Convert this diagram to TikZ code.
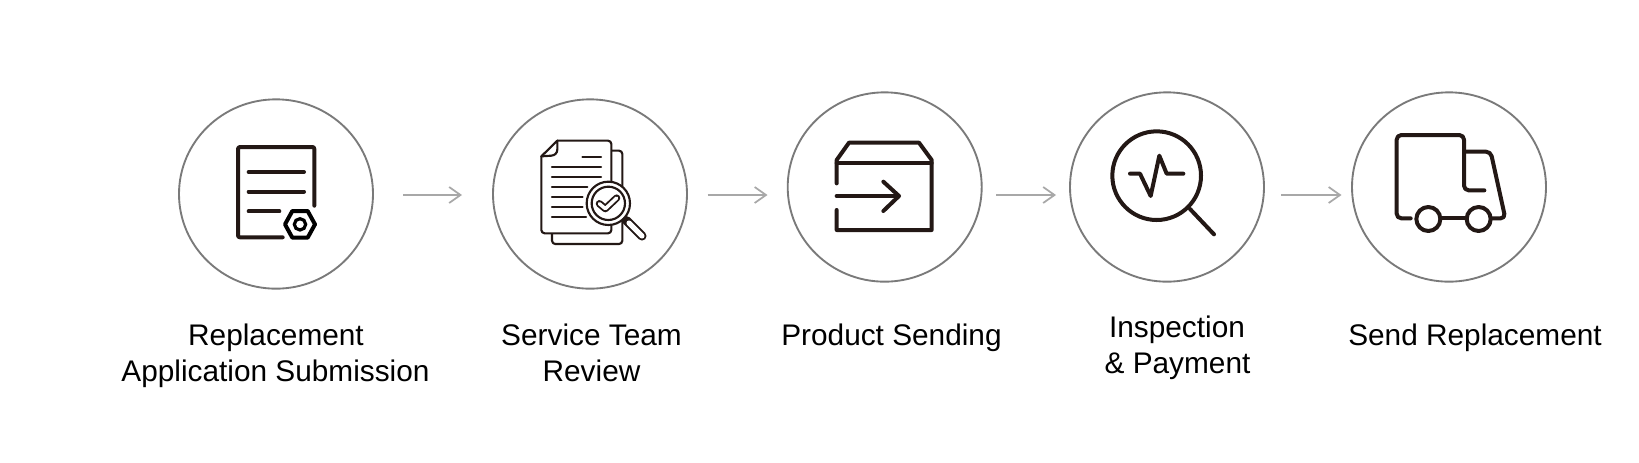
\documentclass[tikz,border=0pt]{standalone}
\usepackage{fontspec}
\setmainfont{Liberation Sans}
\usetikzlibrary{shapes.geometric,arrows.meta}
\definecolor{ink}{HTML}{231815}
\definecolor{ringgray}{HTML}{7A7A7A}
\definecolor{arrowgray}{HTML}{A8A8A8}
\tikzset{
  ring/.style={ellipse,draw=ringgray,line width=1.4pt,minimum width=145.5pt,minimum height=142pt,inner sep=0pt,outer sep=0pt},
  flowarrow/.style={draw=arrowgray,line width=1.3pt,-{Straight Barb[length=8.5pt,width=12pt,line width=1.3pt]}},
  caption/.style={align=center,anchor=base,inner sep=0pt,font=\fontsize{22.35pt}{27.4pt}\selectfont,text=black},
  icon/.style={draw=ink,line width=3pt,line cap=round,line join=round},
  thinicon/.style={draw=ink,line width=1.6pt,line cap=round,line join=round},
}
\begin{document}
\begin{tikzpicture}[x=0.75pt,y=-0.75pt]
\useasboundingbox (0,0) rectangle (1639,462);
\fill[white] (0,0) rectangle (1639,462);
% circles
\node[ring] (c1) at (276,194) {};
\node[ring] (c2) at (590,194) {};
\node[ring] (c3) at (884.7,187) {};
\node[ring] (c4) at (1167,187) {};
\node[ring] (c5) at (1449,187) {};
% arrows
\coordinate (a1s) at (403,195); \coordinate (a1e) at (462,195);
\coordinate (a2s) at (707.5,195); \coordinate (a2e) at (767.5,195);
\coordinate (a3s) at (996,195); \coordinate (a3e) at (1056,195);
\coordinate (a4s) at (1281,195); \coordinate (a4e) at (1341.5,195);
\draw[flowarrow] (a1s) -- (a1e);
\draw[flowarrow] (a2s) -- (a2e);
\draw[flowarrow] (a3s) -- (a3e);
\draw[flowarrow] (a4s) -- (a4e);
% captions
\node[caption] (t1a) at (276,345) {Replacement};
\node[caption] (t1b) at (275.5,381.5) {Application Submission};
\node[caption] (t2a) at (591.5,345) {Service Team};
\node[caption] (t2b) at (591.5,381.5) {Review};
\node[caption] (t3) at (891.5,345) {Product Sending};
\node[caption] (t4a) at (1177,337) {Inspection};
\node[caption] (t4b) at (1177.5,373) {\& Payment};
\node[caption] (t5) at (1475,345) {Send Replacement};
% icon 1
\begin{scope}[shift={(160,85)},x=0.25pt,y=-0.25pt]
\draw[icon,rounded corners=1.5pt] (463,362) -- (463,186) -- (234,186) -- (234,457) -- (368,457);
\draw[icon] (266,261) -- (432,261);
\draw[icon] (266,320) -- (432,320);
\draw[icon] (266,379) -- (358,379);
\draw[draw=black,line width=3pt,line join=round] (375,418) -- (397,378) -- (443,378) -- (465,418) -- (443,458) -- (397,458) -- cycle;
\draw[draw=black,line width=2.4pt] (420,418) circle (17);
\end{scope}
% icon 2
\begin{scope}[shift={(530,130)},x=0.25pt,y=-0.25pt]
\draw[thinicon,rounded corners=2.5pt] (244,62) -- (277,62) -- (277,342) -- (66,342) -- (66,310);
\draw[thinicon,fill=white,rounded corners=2.5pt] (82,32) -- (244,32) -- (244,310) -- (34,310) -- (34,79);
\draw[thinicon,fill=white] (34,79) -- (82,32) -- (82,58) .. controls (82,70) and (74,76) .. (64,77) -- cycle;
\foreach \xa/\xb/\yy in {157/213/82,66/213/112,66/213/142,66/172/171,66/158/201,66/158/231,66/168/261}
  \draw[thinicon] (\xa,\yy) -- (\xb,\yy);
\draw[draw=ink,line width=6.8pt,line cap=round] (290,272) -- (336,318);
\draw[draw=white,line width=3.8pt,line cap=round] (297,279) -- (336,318);
\fill[white] (235,220) circle (65);
\draw[thinicon] (235,220) circle (65);
\draw[thinicon] (235,220) circle (50);
\draw[draw=ink,line width=5.4pt,line cap=round,line join=round] (208,221) -- (226,236) -- (260,204);
\draw[draw=white,line width=2.6pt,line cap=round,line join=round] (208,221) -- (226,236) -- (260,204);
\end{scope}
% icon 3
\begin{scope}[shift={(745,85)},x=0.25pt,y=-0.25pt]
\draw[icon] (275,295) -- (275,225) -- (312,173) -- (522,173) -- (560,225) -- (560,435) -- (275,435) -- (275,375);
\draw[icon] (275,235) -- (560,235);
\draw[icon] (275,333) -- (460,333);
\draw[icon] (415,290) -- (462,333) -- (415,378);
\end{scope}
% icon 4
\begin{scope}[shift={(1015,85)},x=0.25pt,y=-0.25pt]
\draw[icon] (425,272) circle (133);
\draw[icon] (525,372) -- (597,448);
\draw[icon] (345,266) -- (375,266) -- (407,333) -- (433,212) -- (455,266) -- (505,266);
\end{scope}
% icon 5
\begin{scope}[shift={(1380,120)},x=0.25pt,y=-0.25pt]
\draw[icon,rounded corners=3.5pt] (92,295) -- (50,295) -- (50,45) -- (252,45) -- (252,211) -- (313,211);
\draw[icon,rounded corners=3.5pt] (252,95) -- (332,95) -- (376,295) -- (335,295);
\draw[icon] (182,295) -- (258,295);
\draw[icon] (145,297) circle (36);
\draw[icon] (296,297) circle (36);
\end{scope}
\end{tikzpicture}
\end{document}
